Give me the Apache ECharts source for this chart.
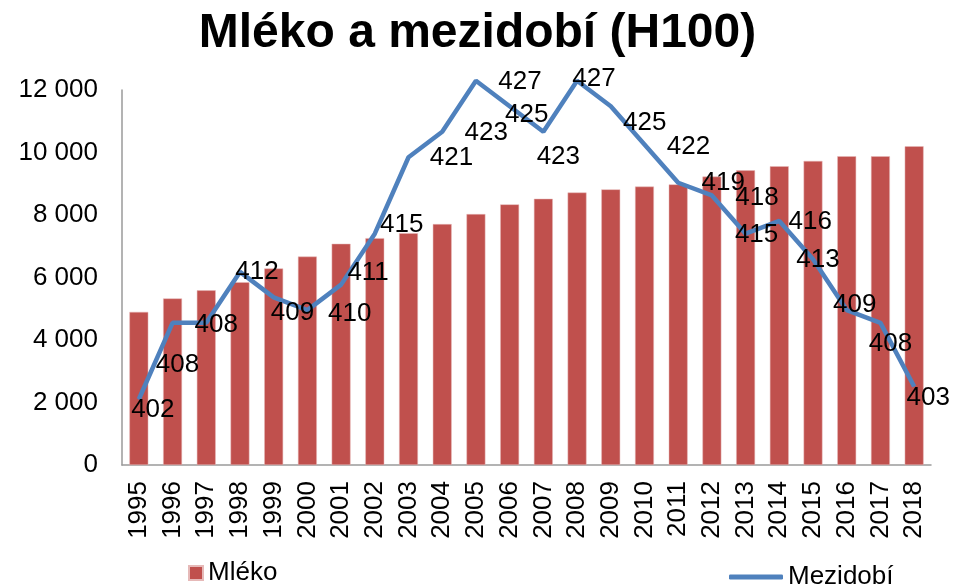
<!DOCTYPE html>
<html>
<head>
<meta charset="utf-8">
<title>Mléko a mezidobí (H100)</title>
<script src="https://cdn.jsdelivr.net/npm/echarts@6/dist/echarts.min.js"></script>
<style>
    html, body { margin: 0; padding: 0; background: #fff; }
    #chart { width: 955px; height: 584px; }
</style>
</head>
<body>
<div id="chart"></div>
<script>
    var years = ['1995','1996','1997','1998','1999','2000','2001','2002','2003','2004','2005','2006',
                 '2007','2008','2009','2010','2011','2012','2013','2014','2015','2016','2017','2018'];
    // dojivost (kg)
    var mleko = [4900, 5330, 5590, 5850, 6290, 6670, 7080, 7260, 7420, 7710, 8030, 8340,
                 8520, 8720, 8820, 8910, 8980, 9230, 9430, 9560, 9730, 9880, 9880, 10200];
    // mezidobí (dny)
    var mezidobi = [402, 408, 408, 412, 410, 409, 411, 415, 421, 423, 427, 425,
                    423, 427, 425, 422, 419, 418, 415, 416, 413, 409, 408, 403];
    var yTicks = [0, 2000, 4000, 6000, 8000, 10000, 12000];

    // posun popisků od bodu (jako v původním grafu)
    var labelShift = [[14,11],[5,42],[10,2],[17,0],[76,16],[-15,3],[27,-12],[27,-9],[43,1],[44,1],[44,1],[17,9],
                      [15,25],[17,-2],[34,17],[44,2],[45,0],[45,2],[11,1],[31,1],[5,1],[8,-5],[10,21],[14,11]];

    var lineData = mezidobi.map(function (v, i) {
        return { value: v, label: { offset: labelShift[i] } };
    });

    var chart = echarts.init(document.getElementById('chart'));
    var font = 'Liberation Sans, Arial, sans-serif';

    chart.setOption({
        animation: false,
        textStyle: { fontFamily: font },
        title: {
            text: 'Mléko a mezidobí (H100)',
            left: 'center',
            top: 5,
            textStyle: { fontSize: 48, fontWeight: 'bold', color: '#000', fontFamily: font }
        },
        legend: [
            {
                data: [{ name: 'Mléko', icon: 'rect' }],
                left: 183, top: 555,
                itemWidth: 14, itemHeight: 14,
                textStyle: { fontSize: 26, color: '#000' }
            },
            {
                data: [{ name: 'Mezidobí', icon: 'roundRect' }],
                left: 724, top: 559,
                itemWidth: 54, itemHeight: 5,
                textStyle: { fontSize: 26, color: '#000' }
            }
        ],
        grid: { left: 122, right: 24, top: 90, bottom: 119 },
        xAxis: {
            type: 'category',
            data: years,
            axisLine: { lineStyle: { color: '#9a9a9a', width: 1.5 } },
            axisTick: { show: false },
            axisLabel: { rotate: 90, fontSize: 26, color: '#000', margin: 16, interval: 0 }
        },
        yAxis: [
            {
                type: 'value',
                min: yTicks[0],
                max: yTicks[yTicks.length - 1],
                interval: 2000,
                axisLine: { show: true, lineStyle: { color: '#9a9a9a', width: 1.5 } },
                axisTick: { show: false },
                splitLine: { show: false },
                axisLabel: {
                    fontSize: 26, color: '#000', margin: 24,
                    formatter: function (v) { return String(v).replace(/\B(?=(\d{3})+(?!\d))/g, ' '); }
                }
            },
            {
                type: 'value',
                show: false,
                min: 396.84,
                max: 426.28,
                splitLine: { show: false }
            }
        ],
        series: [
            {
                name: 'Mléko',
                type: 'bar',
                data: mleko,
                barWidth: '56%',
                itemStyle: { color: '#C0504D', borderColor: '#E6B9B8', borderWidth: 0.5 }
            },
            {
                name: 'Mezidobí',
                type: 'line',
                yAxisIndex: 1,
                data: lineData,
                clip: false,
                symbol: 'circle',
                symbolSize: 1,
                showSymbol: true,
                itemStyle: { color: '#4F81BD' },
                lineStyle: { color: '#4F81BD', width: 4.5 },
                label: {
                    show: true,
                    position: 'inside',
                    fontSize: 26,
                    color: '#000'
                },
                z: 5
            }
        ]
    });
</script>
</body>
</html>
